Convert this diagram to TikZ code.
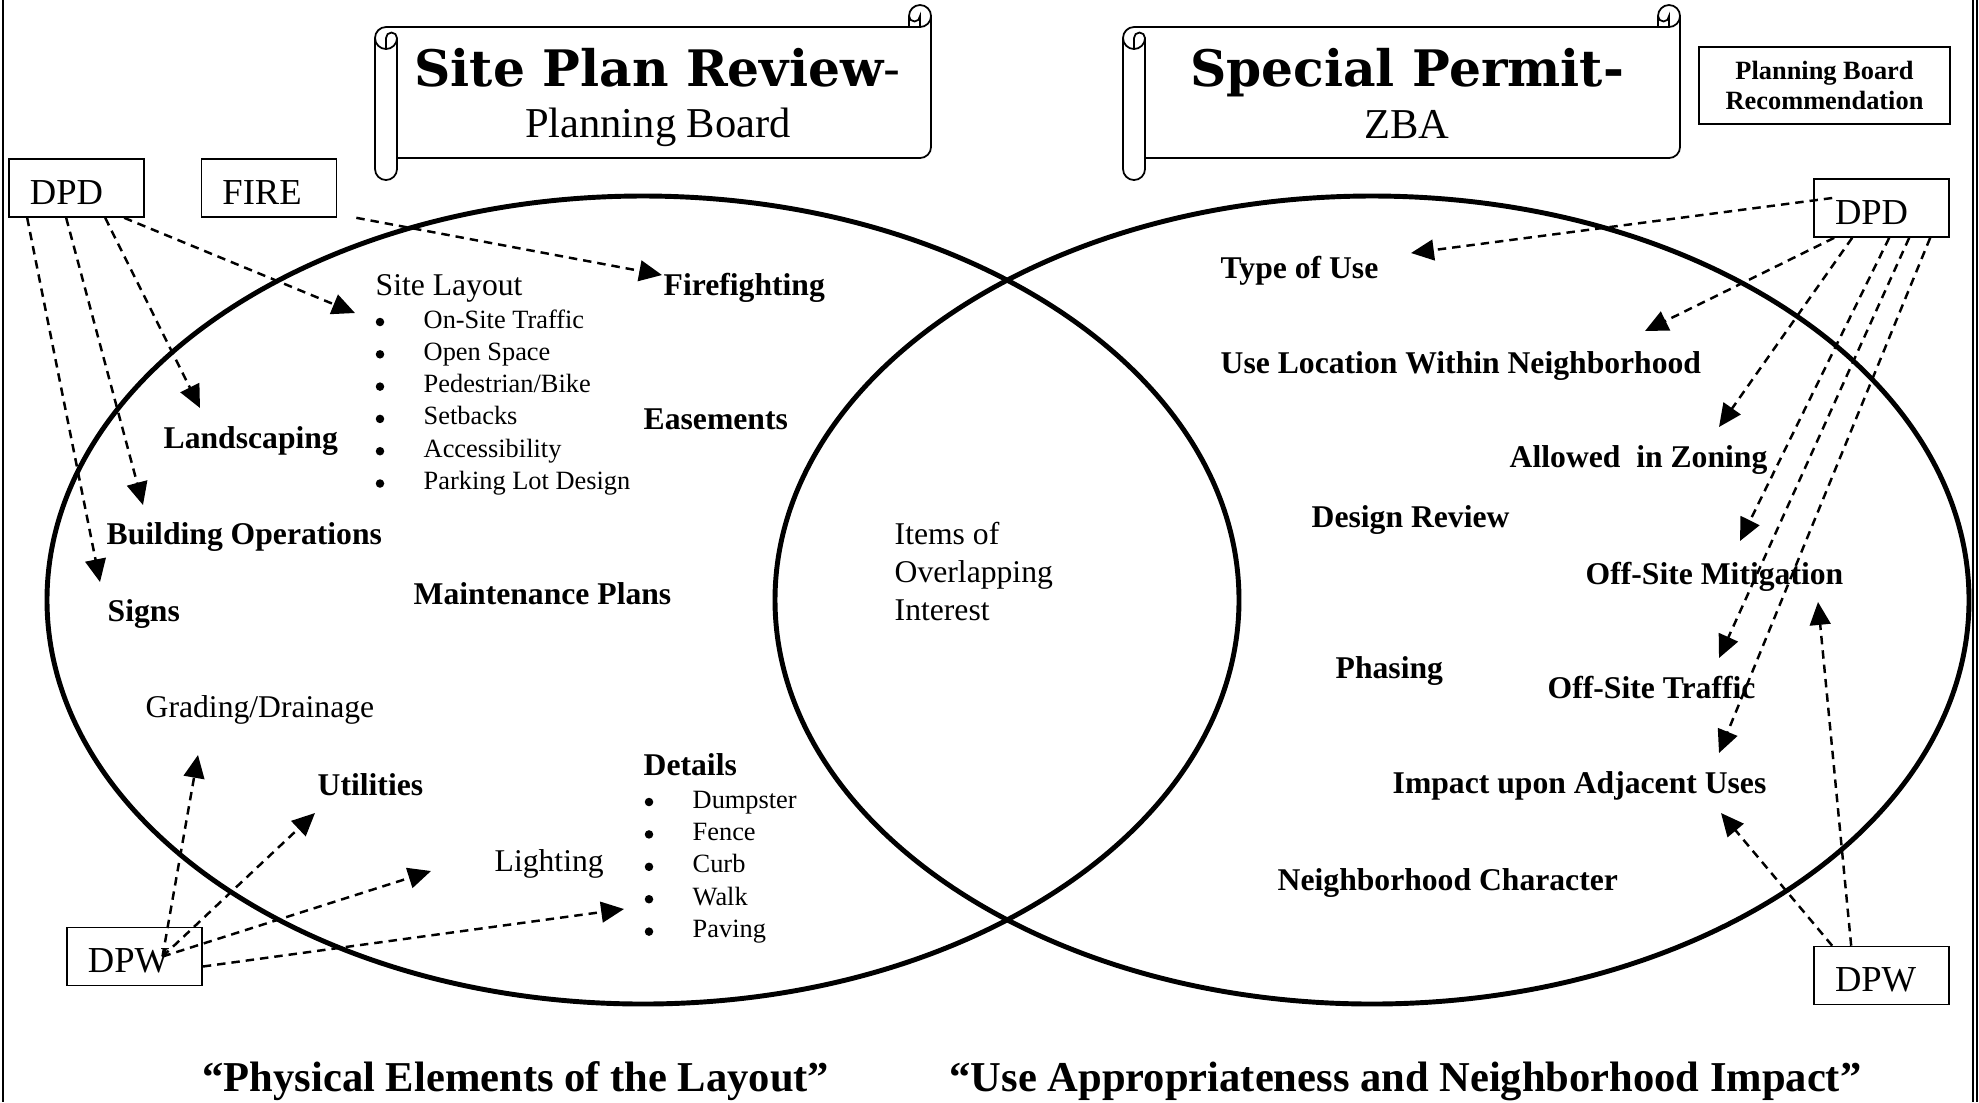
\documentclass[tikz,border=0pt]{standalone}
\usepackage{fontspec}
\setmainfont{Liberation Serif}
\newfontfamily\slabfont{DejaVu Serif}
\usetikzlibrary{arrows.meta,calc}

% rolled banner: left, top, width (height is fixed)
\newcommand{\scrollbanner}[3]{%
  \begin{scope}[shift={(#1,#2)}, line width=0.5pt]
    \draw (0,33) arc[start angle=180, delta angle=90, radius=11]
      -- ({#3-22},22) -- ({#3-22},11) arc[start angle=180, delta angle=180, radius=11]
      -- (#3,142) arc[start angle=0, delta angle=90, radius=11]
      -- (22,153) -- (22,164) arc[start angle=0, delta angle=180, radius=11] -- cycle;
    \draw ({#3-22},22) -- ({#3-11},22) arc[start angle=90, delta angle=-90, radius=11];
    \draw ({#3-11},22) -- ({#3-11},11) arc[start angle=0, delta angle=180, radius=5.5];
    \draw (11,44) -- (11,33) arc[start angle=180, delta angle=180, radius=5.5]
      arc[start angle=0, delta angle=180, radius=11];
    \draw (22,33) -- (22,153);
  \end{scope}}

\tikzset{
  lbl/.style={anchor=base west, inner sep=0pt, font=\fontsize{9}{11}\selectfont\bfseries},
  note/.style={anchor=base west, inner sep=0pt, font=\fontsize{9}{11}\selectfont},
  entry/.style={anchor=base west, inner sep=0pt, font=\fontsize{7.5}{9}\selectfont},
  dot/.style={circle, fill, inner sep=0pt, minimum size=0.085cm},
  agency/.style={draw, line width=0.45pt, font=\fontsize{10.4}{12}\selectfont,
    text width=0.93cm, inner xsep=0.21cm, inner ysep=0pt, minimum height=0.58cm,
    text height=0.33cm, align=left},
  banner title/.style={anchor=base, inner sep=0pt, font=\slabfont\fontsize{14.3}{16}\selectfont\bfseries},
  banner sub/.style={anchor=base, inner sep=0pt, font=\fontsize{12.1}{14}\selectfont},
  motto/.style={anchor=base west, inner sep=0pt, font=\fontsize{12.1}{14}\selectfont\bfseries},
  feed/.style={-{Triangle[length=6.5pt,width=5.9pt]}, line width=0.7pt, dash pattern=on 2.4pt off 1.7pt}
}

\begin{document}
\begin{tikzpicture}[x=0.01cm, y=-0.01cm]
\useasboundingbox (0,0) rectangle (1979,1102);

% page rules
\draw[line width=0.5pt] (3,0) -- (3,1102);
\draw[line width=0.6pt] (1973,0) -- (1973,1102);
\draw[line width=0.6pt] (1977,0) -- (1977,1102);

% the two sets
\draw[line width=1.4pt] (643,600) ellipse [x radius=596, y radius=404];
\draw[line width=1.4pt] (1372,600) ellipse [x radius=597, y radius=404];

% banners
\scrollbanner{375}{5}{556}
\scrollbanner{1123}{5}{557}
\node[banner title] (spr) at (657.5,86) {Site Plan Review{\mdseries -}};
\node[banner sub] (pb) at (658,137) {Planning Board};
\node[banner title] (sp) at (1407,86) {Special Permit-};
\node[banner sub] (zba) at (1407,138) {ZBA};
\node[draw, line width=0.6pt, minimum width=2.51cm, minimum height=0.77cm, align=center,
      inner sep=0pt, font=\fontsize{7.5}{8.5}\selectfont\bfseries] (pbr) at (1824.5,85.5)
      {Planning Board\\Recommendation};

% departments
\node[agency] (dpdL) at (76.5,188) {DPD};
\node[agency] (fire) at (269,188) {FIRE};
\node[agency] (dpwL) at (134.5,956.5) {DPW};
\node[agency] (dpdR) at (1881.5,208) {DPD};
\node[agency] (dpwR) at (1881.5,975.5) {DPW};

% left set
\node[note] (layout) at (375,295) {Site Layout};
\foreach \t [count=\i] in {On-Site Traffic, Open Space, {Pedestrian/Bike}, Setbacks, Accessibility, Parking Lot Design}
{
  \node[dot] (ldot\i) at (380,{289.7+32.3*\i}) {};
  \node[entry] (lay\i) at (423,{295.7+32.3*\i}) {\t};
}
\node[lbl] (firefight) at (663,295) {Firefighting};
\node[lbl] (easement) at (643,429) {Easements};
\node[lbl] (landscape) at (163,448) {Landscaping};
\node[lbl] (building) at (106,544) {Building Operations};
\node[lbl] (signs) at (107,621) {Signs};
\node[lbl] (maint) at (413,604) {Maintenance Plans};
\node[note] (grading) at (145,717) {Grading/Drainage};
\node[lbl] (utility) at (317,795) {Utilities};
\node[note] (lighting) at (494,871) {Lighting};
\node[lbl] (details) at (643,775) {Details};
\foreach \t [count=\i] in {Dumpster, Fence, Curb, Walk, Paving}
{
  \node[dot] (ddot\i) at (649,{769.6+32.4*\i}) {};
  \node[entry] (det\i) at (692,{775.6+32.4*\i}) {\t};
}

% overlap
\foreach \t [count=\i] in {Items of, Overlapping, Interest}
  \node[note] (mid\i) at (894,{506+38*\i}) {\t};

% right set
\node[lbl] (usetype) at (1220,278) {Type of Use};
\node[lbl] (useloc) at (1220,373) {Use Location Within Neighborhood};
\node[lbl] (zoning) at (1509,467) {Allowed~ in Zoning};
\node[lbl] (design) at (1311,527) {Design Review};
\node[lbl] (mitig) at (1585,584) {Off-Site Mitigation};
\node[lbl] (phasing) at (1335,678) {Phasing};
\node[lbl] (traffic) at (1547,698) {Off-Site Traffic};
\node[lbl] (impact) at (1392,793) {Impact upon Adjacent Uses};
\node[lbl] (character) at (1277,890) {Neighborhood Character};

% captions
\node[motto] (physical) at (202,1091) {“Physical Elements of the Layout”};
\node[motto] (useimpact) at (949,1091) {“Use Appropriateness and Neighborhood Impact”};

% arrow tips
\coordinate (tSigns) at (100,582);
\coordinate (tBuild) at (143,505);
\coordinate (tLand) at (200,408);
\coordinate (tLayout) at (355,313);
\coordinate (tFire) at (662,275);
\coordinate (tGrade) at (198,755);
\coordinate (tUtil) at (315,813);
\coordinate (tLight) at (431,871);
\coordinate (tDetail) at (624,909);
\coordinate (tType) at (1411,253);
\coordinate (tUseLoc) at (1645,331);
\coordinate (tZoning) at (1719,427);
\coordinate (tMitig) at (1740,541);
\coordinate (tTraffic) at (1719,658);
\coordinate (tImpact) at (1719,753);
\coordinate (tImpactUp) at (1721,813);
\coordinate (tMitigUp) at (1818,602);

% left departments
\foreach \dx/\tip in {19/tSigns, 58/tBuild, 97/tLand, 116/tLayout}
  \draw[feed] ($(dpdL.south west)+(\dx,0)$) -- (\tip);
\draw[feed] ($(fire.south east)+(19,0)$) -- (tFire);
\coordinate (hubL) at ($(dpwL.center)+(28,0)$);
\foreach \tip in {tGrade, tUtil, tLight}
  \draw[feed] (hubL) -- (\tip);
\draw[feed] ($(dpwL.east)+(0,10)$) -- (tDetail);

% right departments
\draw[feed] ($(dpdR.west)+(19,-10)$) -- (tType);
\foreach \dx/\tip in {21/tUseLoc, 39/tZoning, 76/tMitig, 96/tTraffic, 117/tImpact}
  \draw[feed] ($(dpdR.south west)+(\dx,0)$) -- (\tip);
\foreach \dx/\tip in {19/tImpactUp, 38/tMitigUp}
  \draw[feed] ($(dpwR.north west)+(\dx,0)$) -- (\tip);
\end{tikzpicture}
\end{document}
